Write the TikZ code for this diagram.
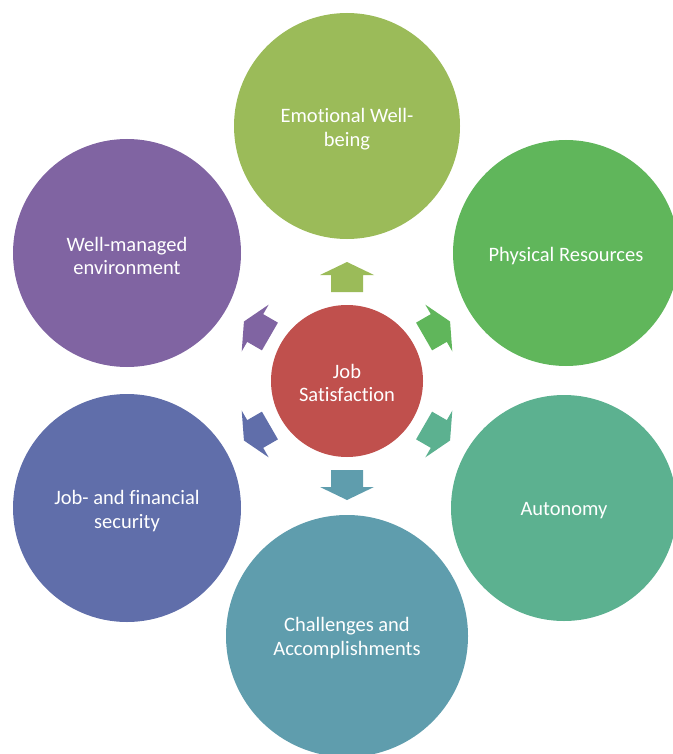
\documentclass[tikz,border=0pt]{standalone}
\usepackage{fontspec}
\setmainfont{Carlito}[Ligatures={NoCommon,NoContextual}]
\definecolor{cemo}{HTML}{9BBB59}
\definecolor{cphy}{HTML}{60B65B}
\definecolor{caut}{HTML}{5CB190}
\definecolor{ccha}{HTML}{5F9DAD}
\definecolor{cjob}{HTML}{606EAA}
\definecolor{cwel}{HTML}{8064A2}
\definecolor{ccen}{HTML}{C0504D}
\tikzset{
  bubble/.style={circle, fill=#1, draw=none, inner sep=0pt},
  bubbletext/.style={text=white, align=center, inner sep=0pt,
    font=\fontsize{20.5}{23.5}\selectfont}
}
\newcommand\myarrow[2]{%
  \begin{scope}[shift={(cen.center)}, rotate=#1]
    \fill[#2] (89pt,-16pt) -- (106pt,-16pt) -- (106pt,-27pt) -- (119pt,0pt)
      -- (106pt,27pt) -- (106pt,16pt) -- (89pt,16pt) -- cycle;
  \end{scope}}
\begin{document}
\begin{tikzpicture}[x=1pt,y=-1pt]
\useasboundingbox (0,0) rectangle (672,754);
\node[bubble=cemo, minimum size=226pt] (emo) at (347,126) {};
\node[bubble=cphy, minimum size=226pt] (phy) at (566,253) {};
\node[bubble=caut, minimum size=226pt] (aut) at (564,508) {};
\node[bubble=ccha, minimum size=242pt] (cha) at (347,636) {};
\node[bubble=cjob, minimum size=228pt] (job) at (127,508) {};
\node[bubble=cwel, minimum size=228pt] (wel) at (127,253) {};
\node[bubble=ccen, minimum size=152pt] (cen) at (347,381) {};
\node[bubbletext] (emoT) at ([yshift=-3pt]emo.center) {Emot\kern0pt ional Well-\\being};
\node[bubbletext] (phyT) at ([yshift=-3pt]phy.center) {Physical Resources};
\node[bubbletext] (autT) at ([yshift=-3pt]aut.center) {Autonomy};
\node[bubbletext] (chaT) at ([yshift=-2pt]cha.center) {Challenges and\\Accomplishments};
\node[bubbletext] (jobT) at ([yshift=-3pt]job.center) {Job- and financial\\security};
\node[bubbletext] (welT) at ([yshift=-3pt]wel.center) {Well-managed\\environment};
\node[bubbletext] (cenT) at ([yshift=-2pt]cen.center) {Job\\Satisfact\kern0pt ion};
\myarrow{90}{cemo}
\myarrow{30}{cphy}
\myarrow{-30}{caut}
\myarrow{-90}{ccha}
\myarrow{-150}{cjob}
\myarrow{150}{cwel}
\end{tikzpicture}
\end{document}
